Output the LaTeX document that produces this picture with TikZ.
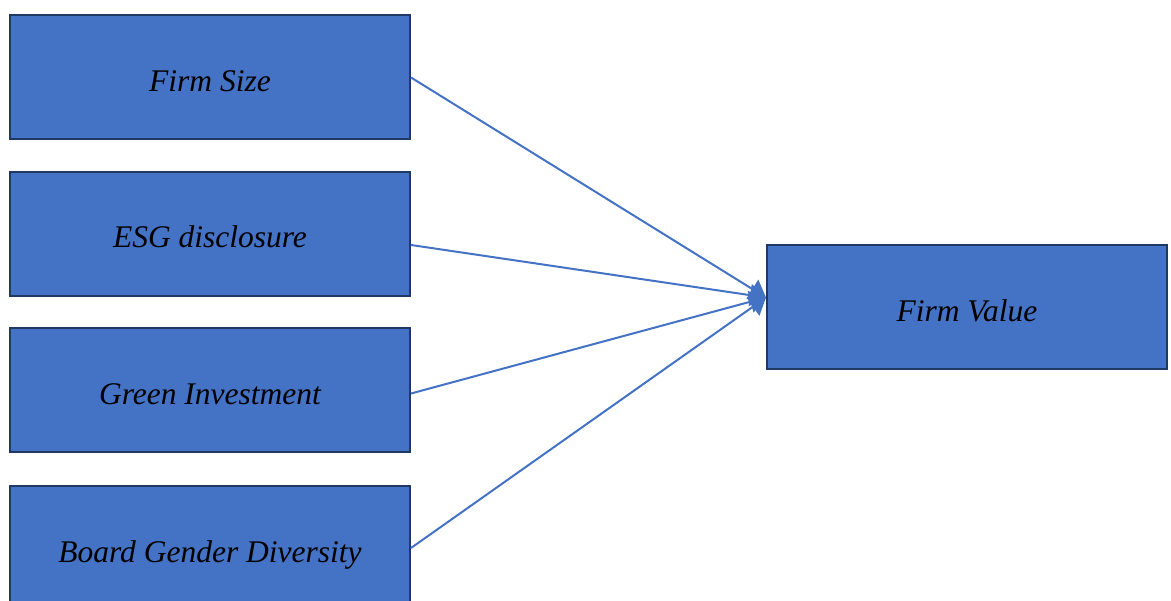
\documentclass[tikz,border=0pt]{standalone}
\usepackage{fontspec}
\setmainfont{Liberation Serif}
\usetikzlibrary{arrows.meta}
\definecolor{boxblue}{HTML}{4472C4}
\definecolor{boxedge}{HTML}{1F3864}
\tikzset{varbox/.style={fill=boxblue,draw=boxedge,line width=2pt,minimum width=400pt,minimum height=124pt,inner sep=0pt,text height=29pt,text depth=1pt,font=\fontsize{31.5}{36}\selectfont\itshape},
  link/.style={draw=boxblue,line width=2pt,-{Triangle[length=16pt,width=22pt]}}}

\begin{document}
\begin{tikzpicture}[x=1pt,y=-1pt]
	\useasboundingbox (0,0) rectangle (1171,601);
	\node[varbox] (size) at (210,77.5) {Firm Size};
	\node[varbox] (esg) at (210,234) {ESG disclosure};
	\node[varbox] (green) at (210,390.5) {Green Investment};
	\node[varbox] (board) at (210,548) {Board Gender Diversity};
	\node[varbox] (value) at (967,307.5) {Firm Value};
	\coordinate (tip) at ([yshift=10pt]value.west);
	\draw[link] (size.east) -- (tip);
	\draw[link] ([yshift=-11pt]esg.east) -- (tip);
	\draw[link] ([yshift=-3pt]green.east) -- (tip);
	\draw[link] (board.east) -- (tip);
\end{tikzpicture}
\end{document}
